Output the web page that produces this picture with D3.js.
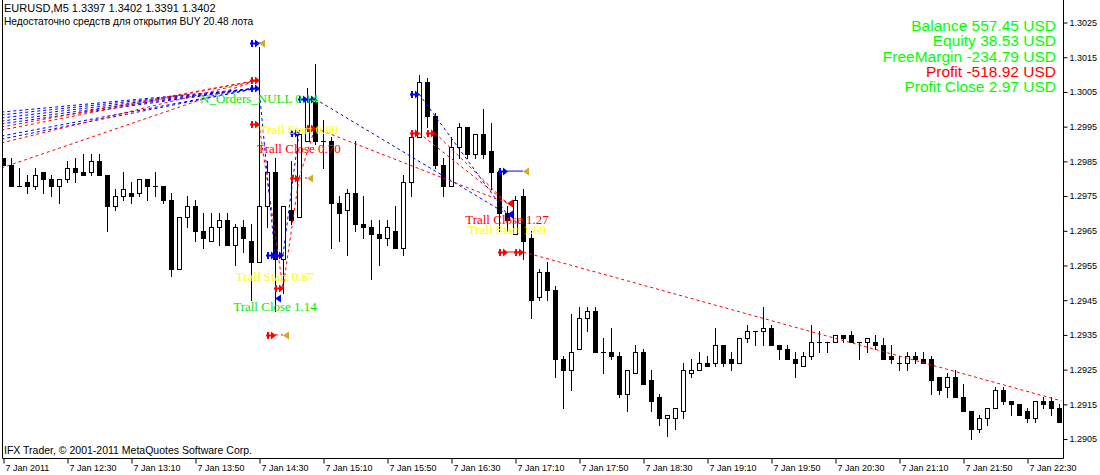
<!DOCTYPE html>
<html><head><meta charset="utf-8">
<script src="https://cdn.jsdelivr.net/npm/d3@7"></script>
<style>body{margin:0;background:#fff;} svg{display:block;}</style>
</head><body><svg id="c" width="1100" height="475"></svg>
<script>
// ---------- DATA ----------
const firstBar = "2011-01-07 11:50";   // EURUSD M5
const open = [1.2986,1.2984,1.2978,1.2979,1.2978,1.2982,1.2980,1.2978,1.2980,1.2983,
1.2982,1.2982,1.2985,1.2981,1.2972,1.2975,1.2976,1.2976,1.2980,1.2978,
1.2978,1.2974,1.2954,1.2969,1.2972,1.2965,1.2962,1.2966,1.2968,1.2961,
1.2966,1.2962,1.2956,1.2972,1.2982,1.2957,1.2971,1.2969,1.2991,1.3002,
1.2991,1.2991,1.2973,1.2971,1.2976,1.2967,1.2966,1.2964,1.2963,1.2965,
1.2960,1.2979,1.2992,1.3008,1.2998,1.2984,1.2978,1.2989,1.2995,1.2987,
1.2993,1.2988,1.2982,1.2970,1.2964,1.2975,1.2963,1.2946,1.2953,1.2948,
1.2928,1.2925,1.2931,1.2940,1.2942,1.2930,1.2930,1.2929,1.2918,1.2924,
1.2930,1.2922,1.2917,1.2911,1.2911,1.2913,1.2924,1.2925,1.2927,1.2927,
1.2932,1.2928,1.2927,1.2934,1.2936,1.2936,1.2937,1.2932,1.2931,1.2928,
1.2926,1.2929,1.2933,1.2933,1.2933,1.2935,1.2935,1.2933,1.2933,1.2933,
1.2932,1.2929,1.2927,1.2927,1.2929,1.2928,1.2928,1.2923,1.2920,1.2923,
1.2917,1.2913,1.2908,1.2911,1.2914,1.2919,1.2916,1.2915,1.2913,1.2911,
1.2916,1.2916,1.2914];
const high = [1.2986,1.2986,1.2983,1.2981,1.2983,1.2982,1.2981,1.2980,1.2985,1.2986,
1.2987,1.2987,1.2987,1.2981,1.2977,1.2982,1.2979,1.2980,1.2980,1.2982,
1.2978,1.2976,1.2969,1.2975,1.2974,1.2970,1.2970,1.2970,1.2970,1.2967,
1.2968,1.2967,1.3018,1.2985,1.2986,1.2972,1.2985,1.2994,1.3006,1.3013,
1.2997,1.2992,1.2975,1.2977,1.2991,1.2975,1.2968,1.2968,1.2968,1.2972,
1.2981,1.2992,1.3010,1.3009,1.2999,1.2986,1.2992,1.2996,1.2995,1.2993,
1.3000,1.2996,1.2982,1.2972,1.2975,1.2977,1.2965,1.2954,1.2956,1.2949,
1.2929,1.2941,1.2943,1.2943,1.2943,1.2934,1.2937,1.2930,1.2925,1.2932,
1.2931,1.2925,1.2918,1.2912,1.2914,1.2927,1.2928,1.2930,1.2929,1.2937,
1.2932,1.2930,1.2934,1.2938,1.2936,1.2943,1.2938,1.2932,1.2932,1.2930,
1.2930,1.2938,1.2936,1.2933,1.2935,1.2935,1.2936,1.2933,1.2934,1.2935,
1.2934,1.2932,1.2929,1.2930,1.2930,1.2930,1.2929,1.2923,1.2924,1.2925,
1.2921,1.2913,1.2912,1.2914,1.2920,1.2920,1.2916,1.2915,1.2914,1.2916,
1.2917,1.2917,1.2915];
const low = [1.2984,1.2978,1.2978,1.2976,1.2977,1.2976,1.2975,1.2973,1.2979,1.2979,
1.2981,1.2981,1.2981,1.2965,1.2971,1.2974,1.2973,1.2975,1.2974,1.2975,
1.2973,1.2952,1.2954,1.2966,1.2962,1.2960,1.2962,1.2961,1.2961,1.2955,
1.2959,1.2945,1.2956,1.2966,1.2942,1.2947,1.2967,1.2969,1.2991,1.2990,
1.2983,1.2960,1.2962,1.2958,1.2965,1.2963,1.2951,1.2955,1.2961,1.2960,
1.2958,1.2975,1.2992,1.2995,1.2983,1.2975,1.2978,1.2986,1.2986,1.2986,
1.2986,1.2977,1.2965,1.2965,1.2964,1.2957,1.2940,1.2945,1.2945,1.2923,
1.2914,1.2919,1.2931,1.2936,1.2930,1.2924,1.2928,1.2917,1.2913,1.2924,
1.2921,1.2913,1.2909,1.2906,1.2908,1.2911,1.2923,1.2925,1.2926,1.2926,
1.2926,1.2925,1.2927,1.2933,1.2932,1.2932,1.2932,1.2928,1.2928,1.2923,
1.2926,1.2928,1.2930,1.2930,1.2933,1.2933,1.2933,1.2928,1.2930,1.2931,
1.2928,1.2927,1.2925,1.2925,1.2927,1.2927,1.2918,1.2918,1.2917,1.2917,
1.2913,1.2905,1.2907,1.2909,1.2914,1.2915,1.2912,1.2912,1.2910,1.2910,
1.2914,1.2912,1.2910];
const close = [1.2984,1.2978,1.2978,1.2978,1.2981,1.2980,1.2978,1.2980,1.2983,1.2982,
1.2981,1.2985,1.2981,1.2972,1.2975,1.2977,1.2975,1.2980,1.2978,1.2978,
1.2974,1.2954,1.2969,1.2972,1.2965,1.2963,1.2966,1.2968,1.2961,1.2966,
1.2963,1.2956,1.2972,1.2982,1.2957,1.2972,1.2968,1.2993,1.3003,1.2991,
1.2991,1.2973,1.2970,1.2976,1.2967,1.2966,1.2964,1.2963,1.2966,1.2960,
1.2979,1.2992,1.3008,1.2998,1.2984,1.2978,1.2989,1.2995,1.2987,1.2993,
1.2987,1.2982,1.2970,1.2968,1.2974,1.2962,1.2945,1.2953,1.2948,1.2928,
1.2925,1.2930,1.2940,1.2942,1.2930,1.2930,1.2929,1.2918,1.2925,1.2930,
1.2921,1.2916,1.2911,1.2912,1.2914,1.2925,1.2925,1.2927,1.2926,1.2932,
1.2927,1.2927,1.2934,1.2936,1.2936,1.2937,1.2932,1.2931,1.2928,1.2927,
1.2929,1.2933,1.2933,1.2933,1.2935,1.2934,1.2933,1.2933,1.2934,1.2932,
1.2928,1.2928,1.2927,1.2929,1.2928,1.2927,1.2922,1.2919,1.2923,1.2917,
1.2913,1.2908,1.2911,1.2914,1.2919,1.2916,1.2915,1.2912,1.2911,1.2916,
1.2915,1.2914,1.2910];

const priceTicks = [1.2905,1.2915,1.2925,1.2935,1.2945,1.2955,1.2965,1.2975,1.2985,1.2995,1.3005,1.3015,1.3025];
const timeTickLabels = ["7 Jan 2011","7 Jan 12:30","7 Jan 13:10","7 Jan 13:50","7 Jan 14:30","7 Jan 15:10",
"7 Jan 15:50","7 Jan 16:30","7 Jan 17:10","7 Jan 17:50","7 Jan 18:30","7 Jan 19:10","7 Jan 19:50",
"7 Jan 20:30","7 Jan 21:10","7 Jan 21:50","7 Jan 22:30"];

// order lines: [bar1, price1, bar2, price2, colour, style]
const fanBlueStart = [1.29992,1.29984,1.29975,1.29966,1.29958,1.29923,1.29914];
const fanRedStart  = [1.29949,1.29940,1.29903,1.29831];
const tradeLines = [
 [32,1.29958,35,1.29485,"red","dot"],
 [32,1.30061,34,1.29580,"blue","dot"],
 [35,1.29580,37,1.29932,"blue","dot"],
 [35,1.29485,37,1.29802,"red","dot"],
 [37,1.29802,39,1.29946,"red","dot"],
 [39,1.30030,63,1.29698,"blue","dot"],
 [39,1.29946,63,1.29730,"red","dot"],
 [52,1.30044,63,1.29698,"blue","dot"],
 [52,1.29932,63,1.29730,"red","dot"],
 [54,1.29932,63,1.29730,"red","dot"],
 [63,1.29822,65,1.29822,"blue","solid"],
 [63,1.29589,65,1.29589,"red","solid"],
 [65,1.29589,132.3,1.29160,"red","dot"],
 [34,1.29350,35,1.29350,"red","dot"],
 [37,1.29802,38,1.29802,"red","dot"],
 [32,1.30191,32.4,1.30191,"blue","solid"]
];
// markers: [bar, price, kind, colour]
const markers = [
 [32,1.30191,"arrow","#0000ff"],[32,1.30191,"tri","#daa520"],
 [32,1.30084,"arrow","#ff0000"],[32,1.30061,"arrow","#0000ff"],
 [32,1.29958,"arrow","#ff0000"],
 [34,1.29580,"arrow","#0000ff"],[35,1.29580,"arrow","#0000ff"],
 [35,1.29485,"arrow","#ff0000"],[34,1.29456,"tri","#0000ff"],
 [34,1.29350,"arrow","#ff0000"],[35,1.29350,"tri","#daa520"],
 [37,1.29802,"arrow","#ff0000"],[38,1.29802,"tri","#daa520"],
 [37,1.29932,"arrow","#0000ff"],[39,1.29946,"arrow","#ff0000"],
 [38,1.30030,"arrow","#0000ff"],[39,1.30030,"arrow","#0000ff"],
 [52,1.30044,"arrow","#0000ff"],[52,1.29932,"arrow","#ff0000"],[54,1.29932,"arrow","#ff0000"],
 [63,1.29822,"arrow","#0000ff"],[65,1.29822,"tri","#daa520"],
 [63,1.29730,"tri","#ff0000"],[63,1.29698,"tri","#0000ff"],
 [63,1.29589,"arrow","#ff0000"],[65,1.29589,"arrow","#ff0000"]
];
// chart text objects: [bar, price, text, colour]
const chartTexts = [
 [32,1.30030,"N_Orders_NULL 0.14","#00e800"],
 [37,1.29943,"Trall Start 0.88","#ffff00"],
 [37,1.29886,"Trall Close 0.70","#ff0000"],
 [34,1.29517,"Trall Start 0.87","#ffff00"],
 [34,1.29433,"Trall Close 1.14","#00e800"],
 [63,1.29655,"Trall Start 1.69","#ffff00"],
 [63,1.29684,"Trall Close 1.27","#ff0000"]
];
const headerLines = ["EURUSD,M5  1.3397 1.3402 1.3391 1.3402","Недостаточно средств для открытия BUY 20.48 лота"];
const headerSizes = [11, 10.2];
const infoLabels = ["Balance 557.45 USD","Equity 38.53 USD","FreeMargin -234.79 USD","Profit -518.92 USD","Profit Close 2.97 USD"];
const infoColors = ["#00ff00","#00ff00","#00ff00","#ff0000","#00ff00"];
const copyright = "IFX Trader, © 2001-2011 MetaQuotes Software Corp.";

// ---------- SCALES ----------
const parse = d3.timeParse("%Y-%m-%d %H:%M");
const t0 = parse(firstBar);
const times = open.map((d,i)=>d3.timeMinute.offset(t0, 5*i));
const fmtHM = d3.timeFormat("%H:%M");
const X0 = 3, XR = 1063, YB = 458;
const x = d3.scaleLinear().domain([0, open.length-1]).range([X0, X0 + 8*(open.length-1)]);
const y = d3.scaleLinear().domain([1.2900, 1.3030]).range([456.4, 5.17]);

const svg = d3.select("#c");
svg.append("rect").attr("width",1100).attr("height",475).attr("fill","#fff");
svg.append("defs").append("clipPath").attr("id","clip").append("rect")
  .attr("x",X0).attr("y",0).attr("width",XR-X0).attr("height",YB);
const plot = svg.append("g").attr("clip-path","url(#clip)");

// ---------- CANDLES ----------
const bars = open.map((o,i)=>({i,o,h:high[i],l:low[i],c:close[i]}));
const cg = plot.append("g");
bars.forEach(b=>{
  const cx = Math.round(x(b.i));
  cg.append("line").attr("x1",cx+0.5).attr("x2",cx+0.5)
    .attr("y1",Math.round(y(b.h))).attr("y2",Math.round(y(b.l))+1)
    .attr("stroke","#000").attr("stroke-width",1);
  const top = Math.round(y(Math.max(b.o,b.c))), bot = Math.round(y(Math.min(b.o,b.c)));
  if (b.c < b.o) {
    cg.append("rect").attr("x",cx-2).attr("y",top).attr("width",5).attr("height",Math.max(1,bot-top+1)).attr("fill","#000");
  } else if (b.c > b.o) {
    cg.append("rect").attr("x",cx-1.5).attr("y",top+0.5).attr("width",4).attr("height",bot-top)
      .attr("fill","#fff").attr("stroke","#000").attr("stroke-width",1);
  } else {
    cg.append("line").attr("x1",cx-2).attr("x2",cx+3).attr("y1",top+0.5).attr("y2",top+0.5).attr("stroke","#000");
  }
});

// ---------- ORDER LINES ----------
const lg = plot.append("g").attr("fill","none");
fanBlueStart.forEach(p=>lg.append("line").attr("x1",x(-0.2)).attr("y1",y(p)).attr("x2",x(32)-1).attr("y2",y(1.30061))
   .attr("stroke","#0000ff").attr("stroke-dasharray","3,3"));
fanRedStart.forEach(p=>lg.append("line").attr("x1",x(-0.2)).attr("y1",y(p)).attr("x2",x(32)-1).attr("y2",y(1.30084))
   .attr("stroke","#ff0000").attr("stroke-dasharray","3,3"));
tradeLines.forEach(([b1,p1,b2,p2,col,st])=>{
  lg.append("line").attr("x1",x(b1)).attr("y1",y(p1)).attr("x2",x(b2)).attr("y2",y(p2))
    .attr("stroke",col).attr("stroke-dasharray",st==="dot"?"3,3":null);
});

// ---------- MARKERS ----------
const mg = plot.append("g");
markers.forEach(([b,p,k,col])=>{
  const mx = Math.round(x(b)), my = Math.round(y(p));
  if (k==="arrow") {
    mg.append("path").attr("d",`M${mx-7},${my-3}V${my+4}M${mx-9},${my+0.5}H${mx-2}`)
      .attr("stroke",col).attr("stroke-width",2).attr("fill","none");
    mg.append("path").attr("d",`M${mx-4},${my-3.5}L${mx+1},${my+0.5}L${mx-4},${my+4.5}Z`).attr("fill",col);
  } else {
    mg.append("path").attr("d",`M${mx},${my+0.5}L${mx+6},${my-3.5}L${mx+6},${my+4.5}Z`).attr("fill",col);
  }
});

// ---------- CHART TEXTS ----------
const tg = plot.append("g").attr("font-family","'Liberation Serif','Times New Roman',serif").attr("font-size",13);
chartTexts.forEach(([b,p,t,col])=>{
  tg.append("text").attr("x",x(b)).attr("y",y(p)).attr("dy","0.35em").attr("text-anchor","middle")
    .attr("fill",col).text(t);
});

// ---------- AXES ----------
const ay = svg.append("g").attr("transform",`translate(${XR+0.5},0)`)
  .call(d3.axisRight(y).tickValues(priceTicks).tickSize(4).tickSizeOuter(0).tickFormat(d3.format(".4f")));
ay.select(".domain").remove();
ay.selectAll("text").attr("font-family","'Liberation Sans',Arial,sans-serif").attr("font-size",9).attr("fill","#000").attr("x",6);
ay.selectAll("line").attr("stroke","#000");

const tickIdx = timeTickLabels.map((lab,k)=>{
  const hm = lab.split(" ")[2];
  const j = times.findIndex(t=>fmtHM(t)===hm);
  return j<0 ? 0 : j;
});
const ax = svg.append("g").attr("transform",`translate(0,${YB+0.5})`)
  .call(d3.axisBottom(x).tickValues(tickIdx).tickSize(5).tickSizeOuter(0)
        .tickFormat((d,k)=>timeTickLabels[k]));
ax.select(".domain").remove();
ax.selectAll(".tick line").attr("stroke","#000").attr("transform","translate(0.5,0)");
ax.selectAll("text").attr("font-family","'Liberation Sans',Arial,sans-serif").attr("font-size",9).attr("fill","#000")
  .attr("text-anchor","start").attr("x",2).attr("y",6).attr("dy","0.71em");

// frame
svg.append("path").attr("d",`M${X0-0.5},0V${YB+0.5}H${XR+0.5}V0`).attr("fill","none").attr("stroke","#000");

// ---------- LABELS ----------
const hg = svg.append("g").attr("font-family","'Liberation Sans',Arial,sans-serif").attr("fill","#000");
headerLines.forEach((t,k)=>hg.append("text").attr("x",4).attr("y",12+13*k).attr("font-size",headerSizes[k]).text(t));
svg.append("text").attr("x",4).attr("y",454).attr("font-family","'Liberation Sans',Arial,sans-serif")
   .attr("font-size",10.5).text(copyright);
const ig = svg.append("g").attr("font-family","'Liberation Sans',Arial,sans-serif").attr("font-size",15.5).attr("text-anchor","end");
infoLabels.forEach((t,k)=>ig.append("text").attr("x",1056).attr("y",31+15.3*k).attr("fill",infoColors[k]).text(t));
</script></body></html>
